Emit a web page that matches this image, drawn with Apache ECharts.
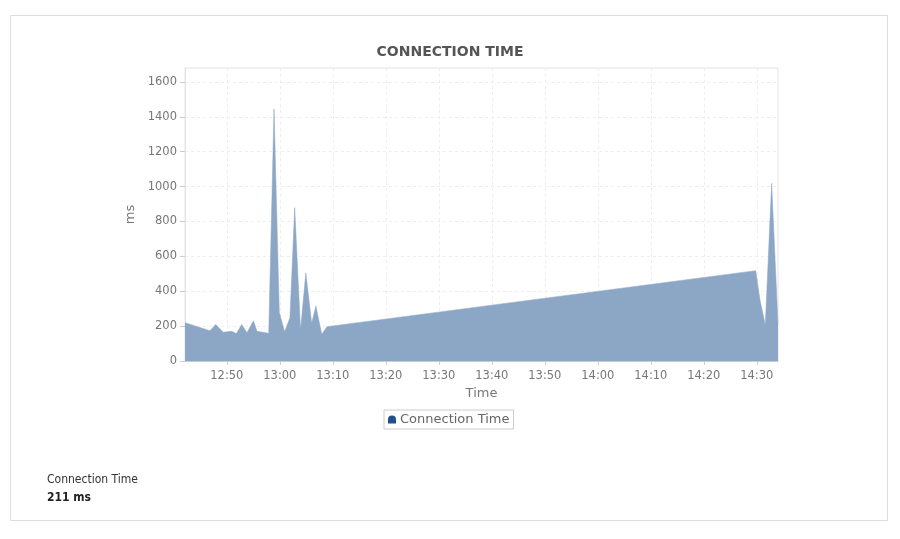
<!DOCTYPE html>
<html>
<head>
<meta charset="utf-8">
<script src="https://cdn.jsdelivr.net/npm/echarts@6/dist/echarts.min.js"></script>
<style>
html,body{margin:0;padding:0;background:#fff;}
#chart{width:900px;height:539px;}
</style>
</head>
<body>
<div id="chart"></div>
<script>
// ---- data ----
var times = ["12:42:06","12:46:48","12:47:54","12:49:18","12:50:54","12:51:48","12:52:48","12:53:48","12:55:00","12:55:42","12:57:54","12:58:54","12:59:54","13:00:54","13:01:54","13:02:48","13:03:54","13:04:54","13:06:00","13:06:48","13:07:54","13:08:54","14:29:48","14:30:36","14:31:36","14:32:48","14:34:00"];
var connectionTime = [220,174,210,165,170,157,210,162,231,170,159,1445,277,168,248,879,178,506,216,315,153,197,518,350,206,1019,211];
var xTickLabels = ["12:50","13:00","13:10","13:20","13:30","13:40","13:50","14:00","14:10","14:20","14:30"];
var yTickLabels = [0,200,400,600,800,1000,1200,1400,1600];
var seriesName = "Connection Time";
var summaryLabel = "Connection Time";
var summaryValue = "211 ms";

function toMin(s){var p=s.split(":");return (+p[0])*60+(+p[1])+(p[2]?(+p[2])/60:0);}
function fmt(v){var h=Math.floor(v/60),m=Math.round(v-h*60);return (h<10?"0":"")+h+":"+(m<10?"0":"")+m;}

var seriesData = times.map(function(t,i){return [toMin(t), connectionTime[i]];});
var xTicks = xTickLabels.map(toMin);

var chart = echarts.init(document.getElementById('chart'), null, {renderer:'canvas'});
chart.setOption({
  animation:false,
  backgroundColor:'#ffffff',
  title:{
    text:'CONNECTION TIME', left:'center', top:40,
    textStyle:{fontFamily:'DejaVu Sans', fontWeight:'bold', fontSize:14, color:'#555555'}
  },
  legend:{
    data:[{name:seriesName, icon:'path://M0,10 L0,5 A5,5 0 0 1 10,5 L10,10 Z', itemStyle:{color:'#1f4f8f'}}],
    left:384, top:410, itemWidth:8, itemHeight:9, itemGap:5,
    borderColor:'#cccccc', borderWidth:1, borderRadius:0, padding:[3,4,3,4],
    textStyle:{fontFamily:'DejaVu Sans', fontSize:13, color:'#666666', padding:[0,0,0,-1]}
  },
  grid:{left:185, right:122, top:68, bottom:178, show:true, borderColor:'#e4e4e4', borderWidth:1, backgroundColor:'#ffffff'},
  xAxis:{
    type:'value', min:'dataMin', max:'dataMax',
    name:'Time', nameLocation:'middle', nameGap:25,
    nameTextStyle:{fontFamily:'DejaVu Sans', fontSize:13, color:'#777777'},
    axisLine:{show:true, lineStyle:{color:'#cccccc'}},
    axisTick:{show:true, length:4, customValues:xTicks, lineStyle:{color:'#cccccc'}},
    axisLabel:{customValues:xTicks, formatter:function(v){return fmt(v);}, fontFamily:'DejaVu Sans', fontSize:11.5, color:'#777777', margin:9},
    splitLine:{show:true, lineStyle:{color:'#eeeeee', type:[3,3]}}
  },
  yAxis:{
    type:'value', min:0, max:1680, interval:200,
    name:'ms', nameLocation:'middle', nameGap:37, nameRotate:90,
    nameTextStyle:{fontFamily:'DejaVu Sans', fontSize:13, color:'#777777'},
    axisLine:{show:true, lineStyle:{color:'#e4e4e4'}},
    axisTick:{show:true, length:5, customValues:yTickLabels, lineStyle:{color:'#cccccc'}},
    axisLabel:{customValues:yTickLabels, formatter:function(v){return String(v);}, fontFamily:'DejaVu Sans', fontSize:11.5, color:'#777777', margin:8},
    splitLine:{show:true, lineStyle:{color:'#eeeeee', type:[3,3]}}
  },
  series:[{
    name:seriesName, type:'line', data:seriesData,
    showSymbol:false, symbol:'none', smooth:false,
    lineStyle:{width:0.5, color:'#8ca7c6'},
    itemStyle:{color:'#8ca7c6'},
    areaStyle:{color:'#8ca7c6', opacity:1}
  }],
  graphic:[
    {type:'rect', z:-10, shape:{x:10.5, y:15.5, width:877, height:505}, style:{fill:'#ffffff', stroke:'#dddddd', lineWidth:1}},
    {type:'text', left:47, top:474, style:{text:summaryLabel, fontFamily:'Liberation Sans Narrow, DejaVu Sans Condensed, sans-serif', fontSize:12, fill:'#333333'}},
    {type:'text', left:47, top:492, style:{text:summaryValue, fontFamily:'Liberation Sans Narrow, DejaVu Sans Condensed, sans-serif', fontWeight:'bold', fontSize:12, fill:'#222222'}}
  ]
});
</script>
</body>
</html>
